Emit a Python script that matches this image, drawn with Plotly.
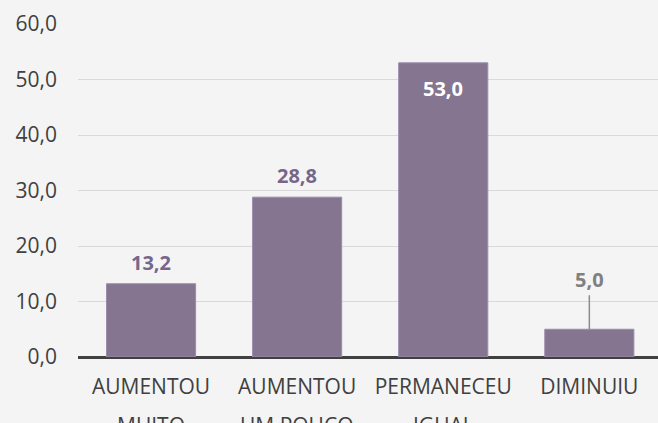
import plotly.graph_objects as go

line1 = ["AUMENTOU", "AUMENTOU", "PERMANECEU", "DIMINUIU"]
line2 = ["MUITO", "UM POUCO", "IGUAL", ""]
values = [13.2, 28.8, 53.0, 5.0]
labels = ["13,2", "28,8", "53,0", "5,0"]
yticks = [0, 10, 20, 30, 40, 50, 60]
ytick_text = ["0,0", "10,0", "20,0", "30,0", "40,0", "50,0", "60,0"]

cats = list(range(len(values)))
BG = "#f4f4f4"
BAR = "#857590"
LBL = "#76668a"
FONT = "Open Sans"

fig = go.Figure()
fig.add_trace(go.Bar(
    x=cats, y=values, width=0.61,
    marker=dict(color=BAR, line=dict(color="#9a8cab", width=1)),
    hoverinfo="skip",
))

# Value labels
for i, (v, t) in enumerate(zip(values, labels)):
    if i == 2:
        fig.add_annotation(x=i, y=v, text="<b>%s</b>" % t, showarrow=False,
                           yanchor="top", yshift=-10,
                           font=dict(family=FONT, size=20, color="white"))
    elif i == 3:
        fig.add_annotation(x=i, y=v, text="<b>%s</b>" % t, showarrow=True,
                           ax=0, ay=-34, arrowhead=0, arrowwidth=1.5,
                           arrowcolor="#8c8c8c", standoff=0,
                           yanchor="bottom",
                           font=dict(family=FONT, size=20, color="#808080"))
    else:
        fig.add_annotation(x=i, y=v, text="<b>%s</b>" % t, showarrow=False,
                           yanchor="bottom", yshift=6,
                           font=dict(family=FONT, size=20, color=LBL))

# Second line of category labels
for i, t in enumerate(line2):
    if t:
        fig.add_annotation(x=i, y=0, yref="paper", text=t, showarrow=False,
                           yanchor="top", yshift=-52,
                           font=dict(family=FONT, size=21, color="#404040"))

fig.update_layout(
    width=658, height=423,
    margin=dict(l=78, r=0, t=24, b=66),
    paper_bgcolor=BG, plot_bgcolor=BG,
    showlegend=False,
    font=dict(family=FONT, size=21, color="#404040"),
    xaxis=dict(tickmode="array", tickvals=cats, ticktext=line1,
               range=[-0.5, 3.47], showgrid=False, zeroline=False,
               showline=False, ticks="", ticklabelstandoff=15,
               tickfont=dict(size=21, color="#404040")),
    yaxis=dict(range=[0, 60], tickmode="array", tickvals=yticks,
               ticktext=ytick_text, showgrid=True, gridcolor="#d9d9d9",
               gridwidth=1, zeroline=True, zerolinecolor="#404040",
               zerolinewidth=3, ticks="", ticklabelstandoff=20,
               tickfont=dict(size=21, color="#404040")),
)

fig.write_html("out.html", config={"displayModeBar": False},
               post_script="document.body.style.margin='0';document.body.style.background='%s';" % BG)
